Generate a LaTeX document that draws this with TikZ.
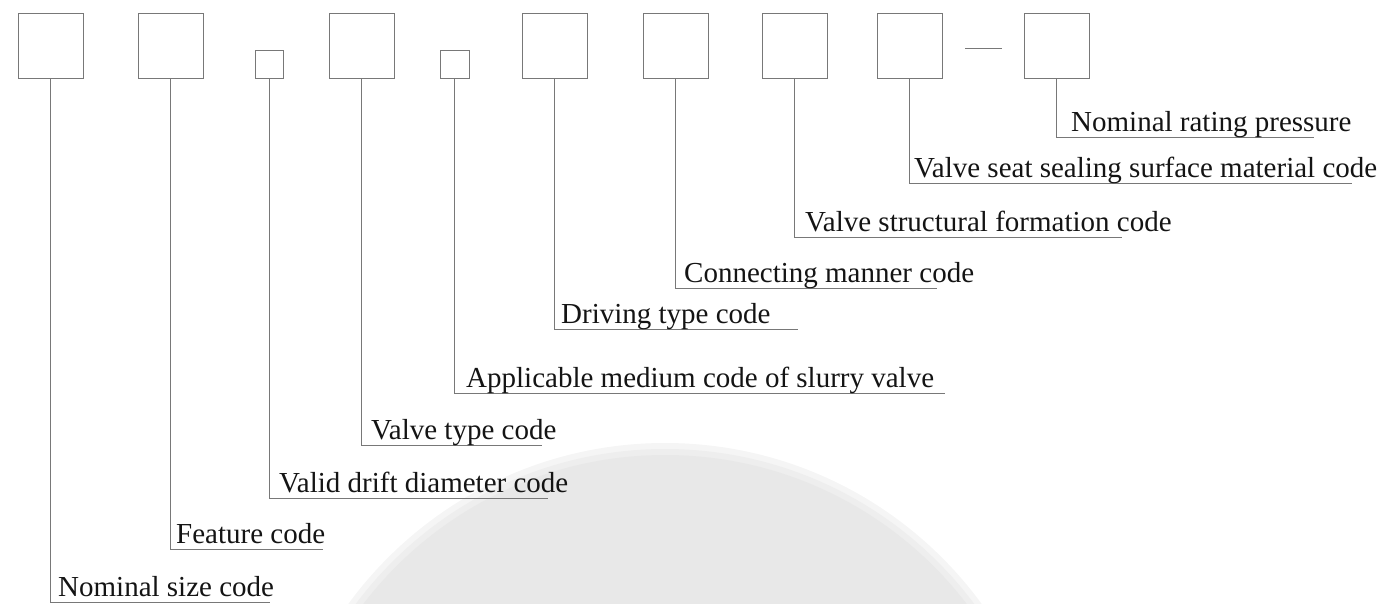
\documentclass[tikz,border=0pt]{standalone}
\usepackage{fontspec}
\setmainfont{Liberation Serif}
\definecolor{boxgray}{RGB}{120,120,120}
\definecolor{txt}{RGB}{20,20,20}
\definecolor{wm}{RGB}{232,232,232}
\definecolor{wmedgea}{RGB}{245,245,245}
\definecolor{wmedgeb}{RGB}{238,238,238}
\begin{document}
\begin{tikzpicture}[x=1pt,y=-1pt,
  codebox/.style={draw=boxgray, line width=1.1pt, minimum width=64.5pt, minimum height=65pt, inner sep=0pt, anchor=north west},
  smallbox/.style={codebox, minimum width=28.5pt, minimum height=28pt},
  lead/.style={draw=boxgray, line width=1pt},
  lbl/.style={anchor=base west, inner sep=0pt, text=txt, font=\fontsize{29}{30}\selectfont}]
\useasboundingbox (0,0) rectangle (1389,603);
% faint background disc
\begin{scope}
\clip (0,0) rectangle (1389,603);
\fill[wmedgea] (665,835) circle (392pt);
\fill[wmedgeb] (665,835) circle (386pt);
\fill[wm] (665,835) circle (380pt);
\end{scope}
% code boxes
\node[codebox]  (b1)  at (18,13)   {};
\node[codebox]  (b2)  at (138,13)  {};
\node[smallbox] (b3)  at (254.5,50) {};
\node[codebox]  (b4)  at (329,13)  {};
\node[smallbox] (b5)  at (440,50)  {};
\node[codebox]  (b6)  at (522,13)  {};
\node[codebox]  (b7)  at (643,13)  {};
\node[codebox]  (b8)  at (762,13)  {};
\node[codebox]  (b9)  at (877,13)  {};
\node[codebox]  (b10) at (1024,13) {};
% dash between last two boxes
\coordinate (d1) at (965,48);
\coordinate (d2) at (1002,48);
\draw[lead] (d1) -- (d2);
% label line ends
\coordinate (e1)  at (270,602);
\coordinate (e2)  at (323,549);
\coordinate (e3)  at (548,498);
\coordinate (e4)  at (542,445);
\coordinate (e5)  at (945,393);
\coordinate (e6)  at (798,329);
\coordinate (e7)  at (937,288);
\coordinate (e8)  at (1122,237);
\coordinate (e9)  at (1352,183);
\coordinate (e10) at (1314,137);
% leaders
\draw[lead] (b1.south)  |- (e1);
\draw[lead] (b2.south)  |- (e2);
\draw[lead] (b3.south)  |- (e3);
\draw[lead] (b4.south)  |- (e4);
\draw[lead] (b5.south)  |- (e5);
\draw[lead] (b6.south)  |- (e6);
\draw[lead] (b7.south)  |- (e7);
\draw[lead] (b8.south)  |- (e8);
\draw[lead] (b9.south)  |- (e9);
\draw[lead] (b10.south) |- (e10);
% labels
\node[lbl] (t1)  at (58,596)   {Nominal size code};
\node[lbl] (t2)  at (176,543)  {Feature code};
\node[lbl] (t3)  at (279,492)  {Valid drift diameter code};
\node[lbl] (t4)  at (371,439)  {Valve type code};
\node[lbl] (t5)  at (466,387)  {Applicable medium code of slurry valve};
\node[lbl] (t6)  at (561,323)  {Driving type code};
\node[lbl] (t7)  at (684,282)  {Connecting manner code};
\node[lbl] (t8)  at (805,231)  {Valve structural formation code};
\node[lbl] (t9)  at (914,177)  {Valve seat sealing surface material code};
\node[lbl] (t10) at (1071,131) {Nominal rating pressure};
\end{tikzpicture}
\end{document}
